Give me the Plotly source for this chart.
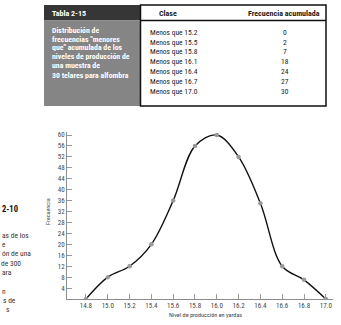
import plotly.graph_objects as go

# ---- data ----
produccion = [14.8, 15.0, 15.2, 15.4, 15.6, 15.8, 16.0, 16.2, 16.4, 16.6, 16.8, 17.0]
frecuencia = [0, 8, 12, 20, 36, 56, 60, 52, 35, 12, 7, 0]
x_tick_vals = [14.8, 15.0, 15.2, 15.4, 15.6, 15.8, 16.0, 16.2, 16.4, 16.6, 16.8, 17.0]
x_tick_text = ["14.8", "15.0", "15.2", "15.4", "15.6", "15.8", "16.0", "16.2", "16.4", "16.6", "16.8", "17.0"]
y_tick_vals = [4, 8, 12, 16, 20, 24, 28, 32, 36, 40, 44, 48, 52, 56, 60]

tabla_clases = ["Menos que 15.2", "Menos que 15.5", "Menos que 15.8", "Menos que 16.1",
                "Menos que 16.4", "Menos que 16.7", "Menos que 17.0"]
tabla_frec_acum = [0, 2, 7, 18, 24, 27, 30]
tabla_titulo = "Tabla 2-15"
tabla_desc = ["Distribución de", "frecuencias \"menores", "que\" acumulada de los",
              "niveles de producción de", "una muestra de", "30 telares para alfombra"]
texto_lateral = [("2-10", True), ("as de los", False), ("e", False), ("ón de una", False),
                 ("de 300", False), ("ara", False), ("", False), ("n", False),
                 ("s de", False), ("s", False)]

W, H = 341, 325
FONT = "Liberation Sans Narrow, Roboto Condensed, Liberation Sans, Arial, sans-serif"


def px(x):
    return x / W


def py(y):
    return 1 - y / H


fig = go.Figure()
fig.add_trace(go.Scatter(
    x=produccion, y=frecuencia, mode="lines+markers",
    line=dict(color="#111111", width=1.4, shape="spline", smoothing=1.0),
    marker=dict(color="#999999", size=4.5),
    hoverinfo="x+y", showlegend=False))

ax_left, ax_right, ax_top, ax_bottom = 67, 333, 132.3, 299

shapes = []
ann = []


def rect(x0, x1, y0, y1, **kw):
    shapes.append(dict(type="rect", xref="paper", yref="paper",
                       x0=px(x0), x1=px(x1), y0=py(y1), y1=py(y0), **kw))


def text(x, y, t, size, color, xanchor="left", **kw):
    ann.append(dict(xref="paper", yref="paper", x=px(x), y=py(y), text=t,
                    showarrow=False, xanchor=xanchor, yanchor="middle",
                    font=dict(family=FONT, size=size, color=color), **kw))


# --- table ---
rect(44, 140, 5, 20.5, fillcolor="#363636", line=dict(width=0))
rect(44, 140, 20.5, 106, fillcolor="#858585", line=dict(width=0))
rect(140.5, 326, 5, 106, fillcolor="white", line=dict(color="#111111", width=1.5))
shapes.append(dict(type="line", xref="paper", yref="paper", x0=px(140.5), x1=px(326),
                   y0=py(20.5), y1=py(20.5), line=dict(color="#111111", width=1.3)))

text(50, 13, "<b>" + tabla_titulo + "</b>", 8.0, "white")
for i, line in enumerate(tabla_desc):
    text(50, 30 + i * 9.0, "<b>" + line + "</b>", 7.8, "white")
text(168, 13, "<b>Clase</b>", 8.0, "#222222", xanchor="center")
text(284, 13, "<b>Frecuencia acumulada</b>", 8.0, "#222222", xanchor="center")
for i, (c, f) in enumerate(zip(tabla_clases, tabla_frec_acum)):
    yy = 32.3 + i * 9.8
    text(148, yy, c, 7.5, "#222222")
    text(285, yy, str(f), 7.5, "#222222", xanchor="center")

# --- cropped side text ---
side_y = [209, 235, 244.3, 253.6, 263, 272, 281, 291, 300, 309]
side_x = [0, 0, 0, 0, -1, 0, 0, 0, 1, 4]
for (t, bold), yy, xx in zip(texto_lateral, side_y, side_x):
    if not t:
        continue
    text(xx, yy, ("<b>" + t + "</b>") if bold else t, 8.5 if bold else 7.5,
         "#111111" if bold else "#333333")

# axis titles
text(205, 315, "Nivel de producción en yardas", 6.2, "#444444", xanchor="center")
text(48, 212, "Frecuencia", 6.2, "#444444", xanchor="center", textangle=-90)

fig.update_layout(
    width=W, height=H,
    margin=dict(l=0, r=0, t=0, b=0, pad=0),
    paper_bgcolor="white", plot_bgcolor="white",
    showlegend=False,
    xaxis=dict(domain=[ax_left / W, ax_right / W], range=[14.626, 17.066],
               tickvals=x_tick_vals, ticktext=x_tick_text,
               showline=True, linecolor="#8c8c8c", linewidth=1,
               ticks="inside", ticklen=5, tickcolor="#9a9a9a", tickwidth=1,
               showgrid=False, zeroline=False,
               tickfont=dict(family=FONT, size=7, color="#444444")),
    yaxis=dict(domain=[(H - ax_bottom) / H, (H - ax_top) / H], range=[0, 61],
               tickvals=y_tick_vals,
               showline=True, linecolor="#8c8c8c", linewidth=1,
               ticks="inside", ticklen=5, tickcolor="#9a9a9a", tickwidth=1,
               showgrid=False, zeroline=False,
               tickfont=dict(family=FONT, size=7, color="#444444")),
    shapes=shapes,
    annotations=ann,
)

fig.write_html("out.html")
